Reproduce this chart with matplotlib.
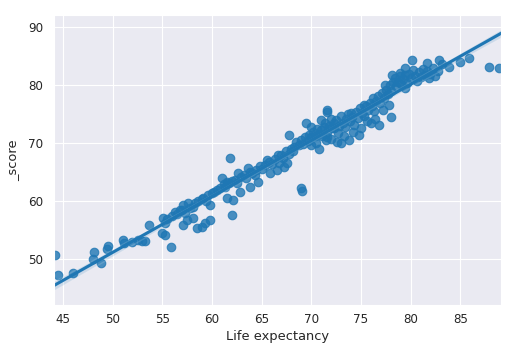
import matplotlib
matplotlib.use("Agg")
import matplotlib.pyplot as plt
import seaborn as sns
import numpy as np

# Life expectancy (x) and _score (y)
life_expectancy = [
    44.2, 44.5, 46.0, 48.0, 48.1, 48.8, 49.4, 49.5, 51.0, 51.1, 52.0, 52.6, 53.0, 53.3, 53.7,
    55.1, 55.3, 55.0, 55.3, 55.9, 56.3, 56.8, 57.1, 57.6, 58.1, 57.1, 57.5, 58.1, 58.5, 59.0,
    59.3, 59.8, 59.8, 59.1, 60.0, 61.0, 61.5, 61.5, 62.1, 62.0, 61.8, 62.6, 62.8, 63.6, 63.8,
    64.3, 64.6, 65.5, 66.8, 67.3, 67.8, 68.3, 69.0, 69.1, 69.5, 70.0, 70.0, 70.5, 71.0, 71.6,
    71.5, 72.6, 72.3, 71.6, 71.6, 73.0, 73.8, 74.8, 74.0, 75.3, 76.0, 76.8, 78.0, 76.2, 77.4,
    78.1, 78.9, 79.4, 80.1, 81.6, 82.9, 83.9, 85.0, 85.9, 87.9, 88.9, 79.4,
    55.5, 56.0, 56.5, 57.0, 57.3, 57.8, 58.3, 58.6, 59.0, 59.4, 59.6, 60.2, 60.5, 60.8, 61.2,
    61.3, 61.7, 62.0, 62.3, 62.5, 62.9, 63.2, 63.4, 63.8, 64.0, 64.4, 64.8, 65.0, 65.3, 65.7,
    66.0, 66.3, 66.6, 67.0, 67.2, 67.5, 67.8, 68.0, 68.2, 68.5, 68.8, 69.0, 69.2, 69.4, 69.7,
    69.8, 70.0, 70.2, 70.4, 70.6, 70.8, 71.0, 71.1, 71.3, 71.4, 71.6, 71.8, 72.0, 72.1, 72.3,
    72.5, 72.7, 72.8, 73.0, 73.2, 73.4, 73.5, 73.7, 73.9, 74.1, 74.3, 74.5, 74.7, 74.9, 75.1,
    75.3, 75.5, 75.7, 75.9, 76.1, 76.3, 76.5, 76.7, 76.9, 77.1, 77.3, 77.5, 77.7, 77.9, 78.0,
    78.2, 78.4, 78.5, 78.7, 78.9, 79.0, 79.2, 79.4, 79.6, 79.8, 80.0, 80.2, 80.4, 80.6, 80.8,
    81.0, 81.2, 81.4, 81.6, 81.8, 82.0, 82.3, 82.5, 82.8, 83.2,
    70.8, 72.0, 73.3, 74.2, 75.0, 75.6, 76.4, 77.2, 77.8, 65.8, 66.5, 67.6,
]
score = [
    50.8, 47.2, 47.7, 50.1, 51.3, 49.4, 51.8, 52.3, 53.3, 52.8, 53.0, 53.3, 53.2, 53.1, 55.9,
    57.1, 56.2, 54.5, 54.1, 52.1, 58.2, 58.4, 59.3, 59.7, 59.0, 55.9, 56.7, 57.1, 55.3, 55.5,
    56.2, 56.7, 59.3, 60.5, 61.4, 64.0, 63.3, 60.5, 60.2, 57.6, 67.4, 64.8, 61.6, 65.7, 62.4,
    64.5, 63.3, 67.1, 66.6, 65.9, 71.4, 69.3, 62.2, 61.7, 73.4, 72.8, 69.7, 70.0, 74.0, 75.3,
    70.5, 70.2, 72.6, 75.7, 71.0, 70.0, 70.5, 71.4, 75.2, 76.6, 73.4, 73.1, 74.5, 77.8, 80.0,
    81.7, 82.1, 82.9, 84.3, 83.8, 84.3, 83.1, 84.0, 84.7, 83.1, 82.9, 79.5,
    57.0, 57.4, 57.8, 58.5, 58.0, 58.9, 59.6, 60.0, 60.3, 60.0, 61.0, 61.6, 61.9, 62.3, 63.0,
    62.5, 63.2, 63.4, 63.6, 63.1, 64.2, 64.5, 64.0, 65.1, 64.8, 65.4, 66.0, 65.5, 66.3, 66.8,
    66.4, 67.3, 67.9, 68.0, 67.4, 68.6, 68.2, 69.0, 68.6, 70.2, 69.6, 70.5, 69.9, 71.0, 70.4,
    71.4, 71.0, 72.0, 71.2, 72.5, 71.6, 72.3, 71.2, 72.8, 73.5, 72.0, 73.0, 74.2, 72.6, 73.4,
    74.0, 71.8, 73.0, 74.6, 73.5, 72.8, 74.2, 75.0, 73.8, 74.5, 73.2, 75.3, 74.3, 76.0, 75.2,
    74.6, 76.4, 75.7, 77.0, 76.4, 75.6, 77.3, 78.1, 77.0, 78.6, 77.8, 79.2, 78.4, 80.0, 79.0,
    80.6, 81.2, 79.8, 80.6, 81.5, 80.2, 81.0, 81.8, 80.4, 82.0, 81.2, 82.6, 81.6, 80.8, 82.2,
    81.4, 82.8, 81.8, 82.4, 81.2, 82.0, 83.0, 81.6, 82.4, 83.6,
    69.0, 70.8, 71.3, 72.0, 72.6, 73.8, 74.2, 75.8, 76.5, 64.8, 65.3, 66.5,
]
x_ticks = [45, 50, 55, 60, 65, 70, 75, 80, 85]
y_ticks = [50, 60, 70, 80, 90]

sns.set_style("darkgrid")
plt.rcParams['font.family'] = ['DejaVu Sans']

fig = plt.figure(figsize=(5.07, 3.57), dpi=100)
ax = fig.add_axes([0.1065, 0.1457, 0.8817, 0.8123])

sns.regplot(x=np.array(life_expectancy), y=np.array(score), ax=ax, color="#1f77b4",
            scatter_kws={"s": 38, "linewidths": 0.8, "alpha": 0.8},
            line_kws={"linewidth": 2.2}, truncate=False, seed=0)

ax.set_xlim(44.1, 89.1)
ax.set_ylim(42.1, 92.1)
ax.set_xticks(x_ticks)
ax.set_yticks(y_ticks)
ax.tick_params(axis="y", labelsize=8.6, colors="#262626", length=0, pad=7.5)
ax.tick_params(axis="x", labelsize=8.6, colors="#262626", length=0, pad=6)
ax.set_xlabel("Life expectancy", fontsize=9.4, color="#262626", labelpad=3)
ax.set_ylabel("_score", fontsize=9.4, color="#262626", labelpad=6)

fig.savefig("out.png", dpi=100)
